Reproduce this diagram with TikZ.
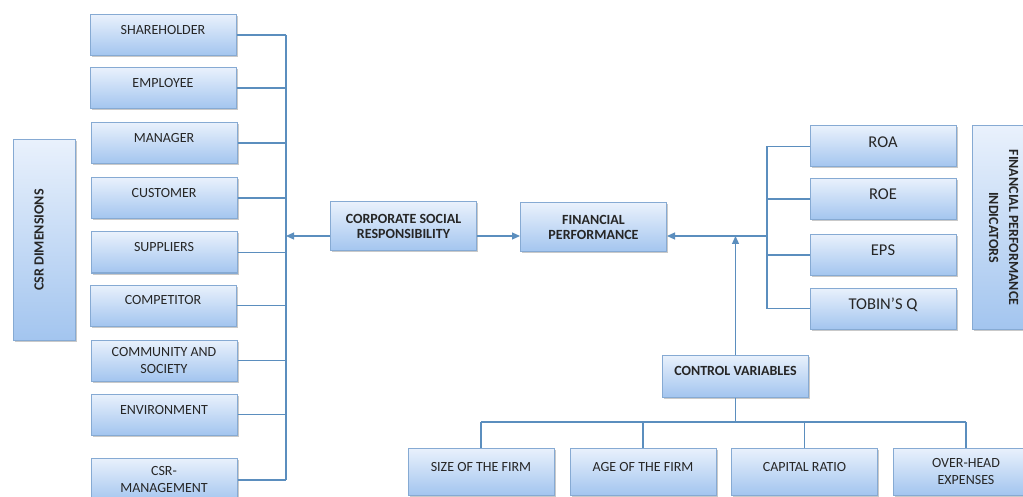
\documentclass[tikz,border=0pt]{standalone}
\usepackage{fontspec}
\setmainfont{Carlito}
\usepackage{graphicx}
\usetikzlibrary{arrows.meta,shadows}
\definecolor{boxtop}{HTML}{E9F1FC}
\definecolor{boxbottom}{HTML}{A3C5EF}
\definecolor{boxedge}{HTML}{86AAD3}
\definecolor{wire}{HTML}{5B8EBE}
\definecolor{ink}{HTML}{262626}

\begin{document}
\begin{tikzpicture}[x=1pt,y=-1pt,
    box/.style={draw=boxedge, line width=1pt, top color=boxtop, bottom color=boxbottom,
        drop shadow={shadow xshift=1.5pt,shadow yshift=-1.5pt,opacity=0.35,fill=black!60},
        minimum width=146pt, minimum height=41pt, inner sep=2pt, text=ink,
        font=\fontsize{14}{17}\selectfont, align=center},
    bold/.style={font=\fontsize{14}{15.5}\selectfont\bfseries},
    one/.style={text height=9.5pt, text depth=10.5pt},
    big/.style={font=\fontsize{16.5}{19}\selectfont, text height=10.5pt, text depth=9pt},
    wire/.style={draw=wire, line width=1.2pt},
    tip/.style={-{Triangle[length=8pt,width=7pt]}}]
    \path[use as bounding box, fill=white] (0,0) rectangle (1023,497);

    \node[box,one] (1) at (163,35) {SHAREHOLDER};
    \node[box,one] (2) at (163,88) {EMPLOYEE};
    \node[box,one] (3) at (164,143) {MANAGER};
    \node[box,one] (4) at (164,198) {CUSTOMER};
    \node[box,one] (5) at (164,252.5) {SUPPLIERS};
    \node[box,one] (6) at (163,305.5) {COMPETITOR};
    \node[box] (7) at (164,360.5) {COMMUNITY AND\\SOCIETY};
    \node[box,one] (8) at (164,414.5) {ENVIRONMENT};
    \node[box,minimum height=44pt] (9) at (164,480) {CSR-\\MANAGEMENT};
    \node[box,bold,minimum width=62pt,minimum height=200pt] (10) at (44,240)
        {\rotatebox{90}{\raisebox{0pt}[9pt][10pt]{CSR DIMENSIONS}}};

    \node[box,bold,minimum height=49pt] (11) at (403.5,226.5) {CORPORATE SOCIAL\\RESPONSIBILITY};
    \node[box,bold,minimum height=49pt] (12) at (593.5,227.5) {FINANCIAL\\PERFORMANCE};

    \node[box,big] (13) at (883,146.5) {ROA};
    \node[box,big] (14) at (883,199) {ROE};
    \node[box,big] (15) at (883,255) {EPS};
    \node[box,big] (16) at (883,308.5) {TOBIN'S Q};
    \node[box,bold,minimum width=62pt,minimum height=203pt] (17) at (1003,227.5)
        {\rotatebox{-90}{\fontsize{14}{20}\selectfont\begin{tabular}{@{}c@{}}FINANCIAL PERFORMANCE\\INDICATORS\end{tabular}}};

    \node[box,bold,one,minimum height=42pt] (18) at (735.5,376) {CONTROL VARIABLES};
    \node[box,one,minimum height=47pt] (19) at (481,471.5) {SIZE OF THE FIRM};
    \node[box,one,minimum height=47pt] (20) at (643,471.5) {AGE OF THE FIRM};
    \node[box,one,minimum height=47pt] (21) at (804.5,471.5) {CAPITAL RATIO};
    \node[box,minimum height=47pt] (22) at (966,471.5) {OVER-HEAD\\EXPENSES};

    \coordinate (lbus) at (286,0);
    \coordinate (rbus) at (767,0);
    \coordinate (row) at (0,236);
    \coordinate (bbus) at (0,422);

    \draw[wire] (1.east) -- (1.east -| lbus) (2.east) -- (2.east -| lbus)
        (3.east) -- (3.east -| lbus) (4.east) -- (4.east -| lbus)
        (5.east) -- (5.east -| lbus) (6.east) -- (6.east -| lbus)
        (7.east) -- (7.east -| lbus) (8.east) -- (8.east -| lbus)
        (9.east) -- (9.east -| lbus);
    \draw[wire] (1.east -| lbus) -- (9.east -| lbus);

    \draw[wire,tip] (11.west |- row) -- (lbus |- row);
    \draw[wire,tip] (11.east |- row) -- (12.west |- row);

    \draw[wire] (13.west) -- (13.west -| rbus) (14.west) -- (14.west -| rbus)
        (15.west) -- (15.west -| rbus) (16.west) -- (16.west -| rbus);
    \draw[wire] (13.west -| rbus) -- (16.west -| rbus);
    \draw[wire,tip] (rbus |- row) -- (12.east |- row);
    \draw[wire,tip] (18.north) -- (18.north |- row);

    \draw[wire] (18.south) -- (18.south |- bbus);
    \draw[wire] (19.north |- bbus) -- (22.north |- bbus);
    \draw[wire] (19.north |- bbus) -- (19.north) (20.north |- bbus) -- (20.north)
        (21.north |- bbus) -- (21.north) (22.north |- bbus) -- (22.north);
\end{tikzpicture}
\end{document}
